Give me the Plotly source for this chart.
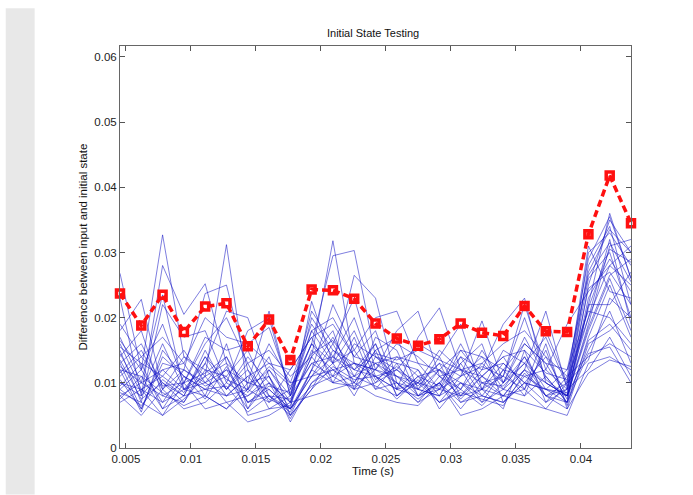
import plotly.graph_objects as go

# ---- time axis ----
t_start = 0.00454
t_step = 0.001638
n_pts = 25
time_s = [round(t_start + k * t_step, 6) for k in range(n_pts)]

# ---- red summary series ----
summary = [0.0237, 0.0188, 0.0235, 0.0178, 0.0217, 0.0222, 0.0156, 0.0197, 0.0135,
           0.0243, 0.0242, 0.0229, 0.0191, 0.0168, 0.0157, 0.0167, 0.0191, 0.0177,
           0.0172, 0.0218, 0.0179, 0.0178, 0.0328, 0.0418, 0.0345]

# ---- individual runs (values in thousandths) ----
run01 = [26.8, 12, 32.7, 14, 11, 31.2, 9, 12, 7, 14, 31.8, 13, 11, 9, 8, 10, 7, 9, 8, 12, 10, 8, 22, 36, 26]
run02 = [23, 8, 28, 20.5, 25.2, 13, 10, 21, 8, 16, 29.5, 30.3, 14, 12, 10, 9, 8, 11, 9, 14, 8, 7, 25, 35, 30]
run03 = [18, 22.8, 9, 12, 23.7, 25, 12, 8, 6, 22.5, 13, 26.5, 23, 10, 9, 12, 10, 8, 7, 10, 9, 8, 28, 34, 22]
run04 = [17, 10, 23.5, 9, 13, 21, 20, 11, 5, 12, 22, 15, 20, 21, 13, 9, 11, 19.5, 10, 13, 8, 9, 30, 33, 28]
run05 = [15, 7, 22, 17, 18, 10, 18, 20, 8, 21, 16, 23, 12, 18, 21, 11, 8, 12, 19, 23, 10, 8, 19, 31, 32]
run06 = [14, 18, 8, 10, 17, 15, 16, 18.5, 9, 18, 20, 14, 18, 9, 17, 21.5, 12, 10, 8, 12, 21, 9, 26, 30, 20]
run07 = [13, 6, 14, 11, 9, 8, 11, 13, 10, 19, 14, 20, 11, 12, 16, 14, 19, 9, 11, 22, 12, 19, 24, 28, 25]
run08 = [16, 9, 11, 15, 10, 12, 7, 9, 6, 11, 12, 10, 15, 17, 9, 8, 13, 16, 7, 10, 14, 8, 18, 26, 18]
run09 = [12, 11, 6, 8, 14, 9, 13, 7, 12, 17, 10, 11, 13, 11, 8, 9, 15, 11, 14, 9, 18, 10, 31, 24, 23]
run10 = [11, 14, 10, 7, 12, 11, 6, 10, 7, 14, 18, 9, 10, 14, 11, 7, 9, 13, 10, 17, 11, 7, 22, 22, 27]
run11 = [10, 8, 12, 13, 8, 6, 9, 14, 5, 9, 15, 12, 16, 8, 10, 13, 7, 8, 12, 11, 9, 12, 21, 20, 16]
run12 = [9, 12, 7, 9, 11, 13, 5, 6, 8, 13, 11, 17, 9, 10, 7, 11, 12, 7, 9, 8, 16, 6, 16, 18, 21]
run13 = [8, 5, 9, 6, 7, 10, 8, 11, 4, 10, 13, 8, 14, 13, 12, 6, 10, 9, 6, 15, 7, 11, 14, 16, 14]
run14 = [7, 9, 5, 10, 6, 7, 4, 5, 7, 8, 9, 10, 8, 7, 6.5, 10, 5, 6, 8, 7, 6, 5, 13, 14, 12]
run15 = [13.5, 7.5, 10, 8, 15, 9, 12, 6, 6.5, 15, 12, 13, 12, 11, 9, 8, 14, 12, 13, 10, 7, 9, 20, 32, 19]
run16 = [10.5, 6, 13, 12, 10, 14, 7, 8, 5.5, 12, 17, 11, 9.5, 8, 11, 12, 9, 6.5, 10, 16, 13, 7.5, 23, 29, 24]
run17 = [12.5, 10, 8, 7, 13, 8, 9, 7, 9, 16, 11, 9, 17, 15, 8, 10, 6, 10, 11, 9, 15, 6.5, 17, 25, 17]
run18 = [9.5, 13, 6, 11, 9, 12, 10, 9, 6, 11, 14, 12, 11, 9, 10, 7, 11, 14, 9, 12, 8, 10, 27, 33.5, 30]
run19 = [14.5, 8.5, 16, 9, 8, 16, 6, 12, 8, 18, 13, 15, 10, 12, 9, 14, 8, 9, 15, 13, 10, 8, 15, 21, 13]
run20 = [8.5, 7, 5, 7.5, 11, 7, 8, 10, 4.5, 10, 12, 9, 13, 10, 7, 9, 13, 8, 7, 11, 12, 9, 12, 17, 11]
run21 = [11.5, 15, 9, 14, 12, 9, 14, 10, 7, 20, 15, 13, 12, 16, 14, 11, 9, 15, 10, 14, 9, 8.5, 24.5, 27, 22]
run22 = [16.5, 12, 19, 10, 16, 20, 13, 15, 11, 14, 10, 16, 14, 11, 10, 15, 12, 13, 16, 18, 14, 11, 29, 35.5, 26]
run23 = [10, 9, 7, 12, 9.5, 11, 15, 8, 7.5, 13, 14, 11, 16, 9, 12, 8, 10, 7, 12, 8, 11, 7, 16.5, 19, 15]
run24 = [7.5, 11, 8.5, 6.5, 8, 6, 10, 11, 6, 9.5, 11, 13, 9, 13, 8, 12, 7.5, 11, 8, 9, 6, 10, 13.5, 23, 20]
run25 = [15.5, 13, 11, 8.5, 14, 10.5, 9, 16, 10, 11, 16, 10, 15, 8, 11, 9.5, 16, 10, 9.5, 13, 17, 9.5, 21.5, 30.5, 28.5]
run26 = [12, 5.5, 15, 11, 7.5, 12.5, 7, 9.5, 8.5, 16, 13, 18, 10.5, 12.5, 9.5, 13, 11, 12.5, 11, 20, 10.5, 8, 18.5, 26.5, 29]
run27 = [8, 10, 12, 9, 10, 8, 11, 7.5, 6, 12, 10, 9.5, 12, 10, 7.5, 10, 14, 9, 13, 10, 9, 7, 14.5, 15.5, 10]
run28 = [19, 14, 17, 13, 20, 17, 16, 13, 12, 17, 19, 14, 13, 14, 13, 12, 15, 14, 12, 16, 13, 12, 26.5, 31.5, 25.5]
run29 = [9, 6.5, 10.5, 8, 9, 9.5, 5.5, 8, 5, 9, 12.5, 10.5, 11, 7.5, 10.5, 7, 8.5, 7.5, 6.5, 11.5, 8, 6, 11.5, 13.5, 12.5]
run30 = [13, 16, 9.5, 10, 11.5, 14, 8.5, 12.5, 9.5, 14.5, 16.5, 12, 14.5, 13.5, 15, 13.5, 12, 11, 14, 15, 11.5, 10.5, 20, 28, 31]

runs = [run01, run02, run03, run04, run05, run06, run07, run08, run09, run10,
        run11, run12, run13, run14, run15, run16, run17, run18, run19, run20,
        run21, run22, run23, run24, run25, run26, run27, run28, run29, run30]

y_ticks = [0, 0.01, 0.02, 0.03, 0.04, 0.05, 0.06]
y_tick_text = ["0", "0.01", "0.02", "0.03", "0.04", "0.05", "0.06"]
x_ticks = [0.005, 0.01, 0.015, 0.02, 0.025, 0.03, 0.035, 0.04]
x_tick_text = ["0.005", "0.01", "0.015", "0.02", "0.025", "0.03", "0.035", "0.04"]

FONT = "Liberation Sans, Arial, sans-serif"

fig = go.Figure()
for r in runs:
    fig.add_trace(go.Scatter(
        x=time_s, y=[v / 1000 for v in r], mode="lines",
        line=dict(color="rgba(15,15,195,0.6)", width=0.9),
        hoverinfo="skip", showlegend=False))

fig.add_trace(go.Scatter(
    x=time_s, y=summary, mode="lines+markers", cliponaxis=False,
    line=dict(color="#ff1010", width=3.5, dash="7px,4px"),
    marker=dict(symbol="square-open", size=7, color="#ff1010",
                line=dict(color="#ff1010", width=3.5)),
    showlegend=False))

W, H = 693, 495
L, R, T, B = 119.5, 631.5, 45.7, 448.5
pw, ph = R - L, B - T

def px(xp):
    return (xp - L) / pw

def py(yp):
    return (B - yp) / ph

fig.update_layout(
    width=W, height=H,
    margin=dict(l=L, r=W - R, t=T, b=H - B, pad=0),
    paper_bgcolor="white", plot_bgcolor="white",
    font=dict(family=FONT, size=11, color="#222"),
    showlegend=False,
    xaxis=dict(range=[time_s[0], time_s[-1]], tickvals=x_ticks, ticktext=x_tick_text,
               ticks="inside", ticklen=5, tickcolor="#555", showline=True,
               linecolor="#666", linewidth=1, mirror="ticks", showgrid=False,
               zeroline=False, tickfont=dict(size=11.5, color="#222")),
    yaxis=dict(range=[0, 0.06168], tickvals=y_ticks, ticktext=y_tick_text,
               ticks="inside", ticklen=5, tickcolor="#555", showline=True,
               linecolor="#666", linewidth=1, mirror="ticks", showgrid=False,
               zeroline=False, tickfont=dict(size=11.5, color="#222")),
    shapes=[dict(type="rect", xref="paper", yref="paper",
                 x0=px(5), x1=px(34), y0=py(495), y1=py(8),
                 fillcolor="#e8e8e8", line=dict(width=0), layer="below")],
    annotations=[
        dict(text="Initial State Testing", xref="paper", yref="paper",
             x=px(373), y=py(33), xanchor="center", yanchor="middle",
             showarrow=False, font=dict(size=11, color="#111")),
        dict(text="Time (s)", xref="paper", yref="paper",
             x=px(373), y=py(472), xanchor="center", yanchor="middle",
             showarrow=False, font=dict(size=11.5, color="#111")),
        dict(text="Difference between input and initial state", xref="paper", yref="paper",
             x=px(82), y=0.5, xanchor="center", yanchor="middle", textangle=-90,
             showarrow=False, font=dict(size=11.5, color="#111")),
    ],
)

fig.write_html("out.html", config={"displayModeBar": False},
               post_script="document.body.style.margin='0';document.body.style.overflow='hidden';")
